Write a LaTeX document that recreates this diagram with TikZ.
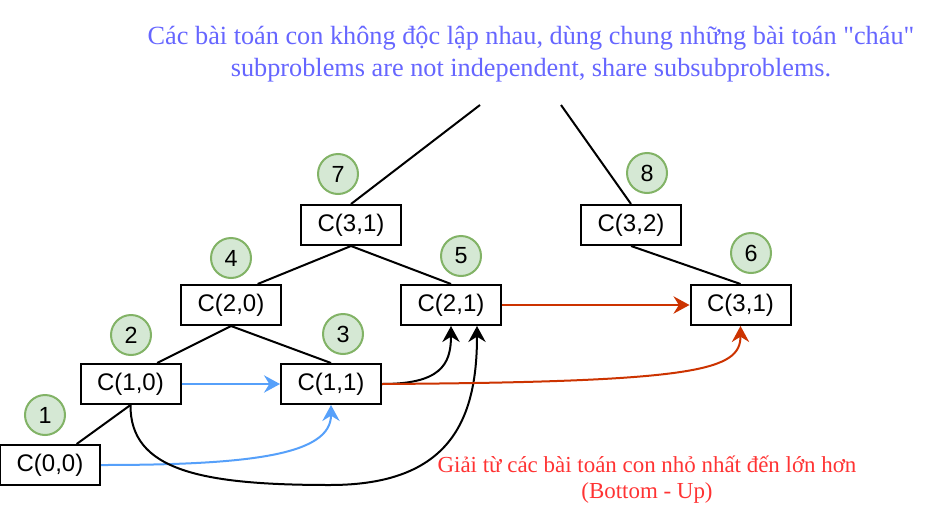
\documentclass[tikz,border=0pt]{standalone}
\usepackage{fontspec}
\setmainfont{Liberation Serif}[Ligatures=TeXOff]
\newfontfamily\nodefont{Liberation Sans}
\usetikzlibrary{arrows.meta}
\definecolor{topblue}{RGB}{102,102,255}
\definecolor{botred}{RGB}{255,51,51}
\definecolor{cfill}{RGB}{213,232,212}
\definecolor{cdraw}{RGB}{130,179,102}
\definecolor{arrblue}{RGB}{86,160,250}
\definecolor{arrred}{RGB}{204,51,0}
\begin{document}
\begin{tikzpicture}[x=0.75pt,y=-0.75pt,
  box/.style={draw, line width=1.5pt, minimum width=75pt, minimum height=30pt, inner sep=0pt, font=\nodefont\fontsize{18}{21}\selectfont},
  num/.style={circle, draw=cdraw, fill=cfill, line width=1.5pt, minimum size=30pt, inner sep=0pt, font=\nodefont\fontsize{17.5}{20}\selectfont},
  tree/.style={line width=1.5pt},
  arr/.style={line width=1.5pt, -{Stealth[length=12pt,width=13pt,inset=4pt]}},
  toptext/.style={text=topblue, font=\fontsize{19.7}{24}\selectfont, anchor=base, inner sep=0pt},
  bottext/.style={text=botred, font=\fontsize{17.2}{21}\selectfont, anchor=base, inner sep=0pt}]
\fill[white] (0,0) rectangle (952,514);
\useasboundingbox (0,0) rectangle (952,514);

% boxes
\node[box] (c00) at (50,465) {C(0,0)};
\node[box] (c10) at (130.5,384) {C(1,0)};
\node[box] (c11) at (331,384) {C(1,1)};
\node[box] (c20) at (231,305) {C(2,0)};
\node[box] (c21) at (451,305) {C(2,1)};
\node[box] (c31a) at (351,225) {C(3,1)};
\node[box] (c32) at (631,225) {C(3,2)};
\node[box] (c31b) at (740.5,305) {C(3,1)};

% numbers
\node[num] (n1) at (45,415) {1};
\node[num] (n2) at (131,335) {2};
\node[num] (n3) at (343,334) {3};
\node[num] (n4) at (231,258) {4};
\node[num] (n5) at (461,256) {5};
\node[num] (n6) at (751,253) {6};
\node[num] (n7) at (338,174) {7};
\node[num] (n8) at (647,173) {8};

\coordinate (top1) at (480,105);
\coordinate (top2) at (561,105);

% tree
\draw[tree] ([xshift=20pt]c00.north) -- (c10.south);
\draw[tree] ([xshift=20pt]c10.north) -- (c20.south);
\draw[tree] (c20.south) -- (c11.north);
\draw[tree] ([xshift=20pt]c20.north) -- (c31a.south);
\draw[tree] (c31a.south) -- (c21.north);
\draw[tree] (c31a.north) -- (top1);
\draw[tree] (c32.north) -- (top2);
\draw[tree] (c32.south) -- (c31b.north);

% arrows
\draw[arr, arrblue] (c10.east) -- (c11.west);
\draw[arr, arrblue] (c00.east) .. controls (250,465) and (331,455) .. (c11.south);
\draw[arr] (c11.east) .. controls (440,384) and (451,365) .. (c21.south);
\draw[arr] (c10.south) .. controls (130,470) and (200,485) .. (330,485) .. controls (450,485) and (477,420) .. ([xshift=19.5pt]c21.south);
\draw[arr, arrred] (c21.east) -- (c31b.west);
\draw[arr, arrred] (c11.east) .. controls (700,382) and (740.5,370) .. (c31b.south);

% texts
\node[toptext] (t1) at (531,44) {Các bài toán con không độc lập nhau, dùng chung những bài toán "cháu"};
\node[toptext] (t2) at (531,76) {subproblems are not independent, share subsubproblems.};
\node[bottext] (b1) at (647,472) {Giải từ các bài toán con nhỏ nhất đến lớn hơn};
\node[bottext] (b2) at (647,498) {(Bottom - Up)};
\end{tikzpicture}
\end{document}
